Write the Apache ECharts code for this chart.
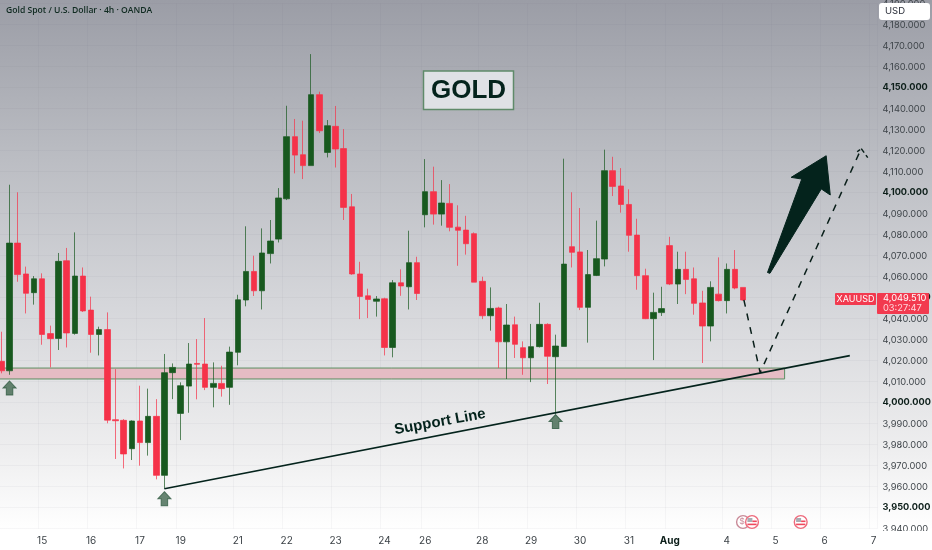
<!DOCTYPE html>
<html><head><meta charset="utf-8">
<style>html,body{margin:0;padding:0;background:#fff}#c{width:932px;height:550px}</style>
<script src="https://cdn.jsdelivr.net/npm/echarts@6/dist/echarts.min.js"></script>
</head><body><div id="c"></div>
<script>
const opens=[4019.7,4015.2,4076,4061.3,4052.4,4059,4032.9,4030.6,4067.6,4033,4060.3,4044.1,4032.5,4034.8,3991.9,3991.6,3978.1,3991.3,3981,3993.5,3965.4,4014.3,3994.9,4007.9,4018.7,4018.4,4007.3,4009.2,4007.3,4024,4048.9,4062.5,4053.3,4071,4077.9,4097.1,4126.7,4118.1,4112.9,4146.7,4119.2,4131.6,4121,4093.3,4061.3,4050.9,4048.3,4049.5,4026.3,4057.1,4055.2,4066.7,4089.5,4100.5,4089.8,4094.9,4083.6,4082.2,4080.5,4057.8,4041.4,4045.1,4029,4037.1,4026.2,4021.4,4026.7,4037.3,4021.9,4026.8,4074.3,4071.8,4045.4,4060.6,4068.4,4110.5,4103.2,4094.4,4079.8,4060.5,4040,4042.9,4074.8,4056.5,4063.5,4059,4047.5,4036.5,4051.7,4048.6,4063.5,4054.9];
const closes=[4015.2,4076,4061,4052.1,4059,4032.5,4030.5,4067.3,4033.2,4060.3,4043.7,4032.5,4034.8,3991.7,3991.4,3975.6,3991.3,3981,3993.5,3965.4,4014.3,4016.8,4008.1,4018.4,4018.3,4007.3,4009.2,4006.7,4024.1,4049,4062.5,4053.3,4071.3,4077,4097.5,4126.7,4117.9,4112.9,4146.7,4129.5,4131.9,4120.8,4093,4061.3,4050.6,4049.2,4049.4,4026.3,4057.1,4055.6,4066.7,4052,4100.5,4089.8,4095.1,4083.5,4082.1,4075.7,4057.4,4041.4,4044.9,4029,4037,4027.8,4021.4,4026.7,4037.3,4022.1,4027,4066,4071.6,4045.4,4061,4068.6,4110.5,4103,4094.4,4079.7,4060.5,4040,4043,4044.8,4056.5,4063.5,4058.7,4047.3,4036.5,4054.9,4048.6,4063.5,4054.6,4048.9];
const lows=[4014,4013.3,4057.6,4042.5,4046.7,4027.6,4016.8,4025.1,4026.3,4032.4,4043.2,4023.8,4022.5,3990.2,3973.2,3968.7,3972.7,3970,3974.8,3963.5,3959,4001.7,3982.2,3995.2,4001.6,4006,3997.8,4002.9,3999,4017.8,4045.9,4050.8,4044.4,4066.3,4076.3,4096.5,4109.2,4106.5,4112.9,4128.4,4116.8,4112,4087,4060.9,4039.8,4040.3,4041,4022.5,4021.6,4050.9,4044.4,4048.9,4083.5,4084.8,4084.3,4081.6,4065.2,4070.5,4057.4,4039.8,4034.3,4016.5,4011.3,4021.3,4013.3,4009.8,4026.3,4008.9,3994.6,4026.8,4064.4,4044.1,4028.6,4060.3,4064.9,4098.4,4090.5,4071.9,4053.8,4039.8,4020.3,4041.3,4056,4047,4051.7,4041.9,4018.9,4029.2,4048.2,4042.5,4054,4048.6];
const highs=[4033.8,4103.8,4100.2,4064.8,4060.3,4061.6,4036.7,4071.3,4073.7,4081.1,4064.4,4050.5,4036.2,4043,4016,3992.2,3991.6,4008.1,4006.7,4001.7,4023.2,4018.7,4009.7,4028.4,4030.3,4040.3,4019.2,4017.6,4026.7,4051.4,4084,4070,4083,4087,4102.2,4141.4,4135.1,4134.3,4166,4148.1,4134.6,4141.3,4130.3,4099.4,4067.1,4054.3,4050.8,4050,4058.4,4063.5,4081.9,4069.5,4116,4112.4,4106,4104.1,4094,4089,4081.1,4060,4054.9,4045.7,4047,4041,4029.2,4037.5,4047.6,4037.8,4032.4,4116.2,4100.2,4092.7,4072.7,4086.7,4120.5,4117.1,4111.7,4101.6,4087.6,4063.8,4052.4,4055.2,4079,4071.9,4071.9,4064.4,4053.3,4057.8,4069.2,4066.3,4072.7,4054.9];

const slotCount=108;
const dayIndex=[5,11,17,22,29,35,41,47,52,59,65,71,77,82,89,95,101,107];
const dayLabels=['15','16','17','19','21','22','23','24','26','28','29','30','31','Aug','4','5','6','7'];
const priceMin=3940, priceMax=4190, priceStep=10;

const zoneStartIdx=-2, zoneEndIdx=96.1, zoneLow=4011.3, zoneHigh=4016.5;
const supportLine=[[20,3959],[104.1,4022.4]];
const forecastPath=[[91.1,4049],[93.1,4014.3],[105.5,4121],[105,4119.5]];
const forecastHead=[[105.5,4121],[106.3,4116.7]];
const bigArrow=[[94.0,4062],[98.2,4106.5],[96.9,4107.3],[101.2,4117.6],[101.7,4098.9],[100.6,4101.8],[94.3,4061.6]];
const upMarkers=[[1,4007],[20,3954.3],[68,3991]];

const UP='#18591f', DOWN='#f53249', INK='#04231c';
const categories=[];
for(let i=0;i<slotCount;i++){const k=dayIndex.indexOf(i);categories.push(k>=0?dayLabels[k]:'');}
const candles=opens.map((o,i)=>[o,closes[i],lows[i],highs[i]]);
const fmtPrice=v=>v.toLocaleString('en-US',{minimumFractionDigits:3,maximumFractionDigits:3});

function flag(cx,cy,faded){
  const s=faded?'#c98a98':'#ee6a7c';
  const kids=[{type:'circle',shape:{cx,cy,r:6.4},style:{fill:'#fff',stroke:s,lineWidth:1.4},z:60}];
  if(!faded){
    kids.push({type:'rect',shape:{x:cx-4.6,y:cy-4,width:5,height:4},style:{fill:'#a9acb3'},z:61});
    kids.push({type:'rect',shape:{x:cx+0.4,y:cy-1.5,width:4.4,height:1.6},style:{fill:'#f0475c'},z:61});
    kids.push({type:'rect',shape:{x:cx-4.6,y:cy+1.6,width:9.2,height:1.6},style:{fill:'#f0475c'},z:61});
  }else{
    kids.push({type:'text',x:cx-1,y:cy,style:{text:'$',font:'9px "Liberation Sans"',fill:s,align:'center',verticalAlign:'middle'},z:61});
  }
  return kids;
}

const chart=echarts.init(document.getElementById('c'),null,{renderer:'canvas'});
chart.setOption({
  animation:false,
  backgroundColor:{type:'linear',x:0,y:0,x2:0,y2:1,colorStops:[
    {offset:0,color:'#9b9da6'},{offset:0.27,color:'#b9bbc1'},{offset:0.55,color:'#d5d6da'},{offset:0.82,color:'#eeeeef'},{offset:0.965,color:'#ffffff'},{offset:1,color:'#ffffff'}]},
  grid:{left:-2.67,top:3.7,width:880.2,height:525,containLabel:false,outerBoundsMode:'none'},
  xAxis:[
    {type:'category',data:categories,boundaryGap:true,
     axisLine:{show:false},axisTick:{show:false},
     splitLine:{show:true,interval:(i,v)=>v!=='',lineStyle:{color:'rgba(90,95,110,0.05)',width:1}},
     axisLabel:{interval:0,margin:7,fontFamily:'Inter',fontSize:10,color:'#3c4247',
       formatter:v=>v==='Aug'?'{b|Aug}':v,rich:{b:{fontFamily:'Inter',fontWeight:700,fontSize:10,color:'#0d1f1a'}}}},
    {type:'value',min:-0.5,max:slotCount-0.5,show:false,splitLine:{show:false}}
  ],
  yAxis:{type:'value',position:'right',min:priceMin,max:priceMax,interval:priceStep,scale:true,
    axisLine:{show:false},axisTick:{show:false},
    splitLine:{show:true,lineStyle:{color:'rgba(90,95,110,0.05)',width:1}},
    axisLabel:{margin:5,align:'left',fontFamily:'Inter',fontSize:9.3,color:'#3f454a',
      formatter:v=>v%50===0?'{b|'+fmtPrice(v)+'}':fmtPrice(v),
      rich:{b:{fontFamily:'Inter',fontWeight:700,fontSize:9.2,color:'#0d1f1a'}}}},
  series:[
    {type:'custom',xAxisIndex:1,yAxisIndex:0,z:1,clip:true,silent:true,
     encode:{x:[0,2],y:[1,3]},data:[[zoneStartIdx,zoneLow,zoneEndIdx,zoneHigh]],
     renderItem:(p,api)=>{
       const a=api.coord([api.value(0),api.value(3)]),b=api.coord([api.value(2),api.value(1)]);
       return {type:'rect',shape:{x:a[0],y:a[1],width:b[0]-a[0],height:b[1]-a[1]},
         style:{fill:'#e5bcc4',stroke:'#5c8f62',lineWidth:1}};
     }},
    {type:'candlestick',xAxisIndex:0,yAxisIndex:0,z:2,barWidth:6,data:candles,
     itemStyle:{color:UP,color0:DOWN,borderColor:'rgba(24,89,31,0.7)',borderColor0:'rgba(245,50,73,0.7)',borderWidth:1}},
    {type:'line',xAxisIndex:1,yAxisIndex:0,z:4,data:supportLine,symbol:'none',silent:true,
     lineStyle:{color:INK,width:1.6}},
    {type:'line',xAxisIndex:1,yAxisIndex:0,z:4,data:forecastPath,symbol:'none',silent:true,
     lineStyle:{color:'#0a1f1a',width:1.5,type:[7,7]}},
    {type:'line',xAxisIndex:1,yAxisIndex:0,z:4,data:forecastHead,symbol:'none',silent:true,
     lineStyle:{color:'#0a1f1a',width:1.5,type:[5,3]}},
    {type:'custom',xAxisIndex:1,yAxisIndex:0,z:5,silent:true,clip:false,
     encode:{x:0,y:1},data:bigArrow,
     renderItem:(p,api)=>{
       if(p.dataIndex!==0) return;
       return {type:'polygon',shape:{points:bigArrow.map(q=>api.coord(q))},
         style:{fill:INK,stroke:INK,lineWidth:1,lineJoin:'round'}};
     }},
    {type:'scatter',xAxisIndex:1,yAxisIndex:0,z:5,silent:true,data:upMarkers,
     symbol:'path://M7 0 L14 7 L10.5 7 L10.5 14 L3.5 14 L3.5 7 L0 7 Z',symbolSize:[13,14],
     itemStyle:{color:'#41664f',borderColor:'#2f5a41',borderWidth:1}}
  ],
  graphic:[
    {type:'text',x:6,y:11,z:100,style:{text:'Gold Spot / U.S. Dollar · 4h · OANDA',font:'600 8.6px "Open Sans"',fill:'#0f2a20',verticalAlign:'middle'}},
    {type:'rect',shape:{x:423.5,y:71,width:90,height:38.5},z:50,style:{fill:'#dfe1e5',stroke:'#5f8a6a',lineWidth:1.5}},
    {type:'text',x:468.5,y:91,z:51,style:{text:'GOLD',font:'bold 26px "Liberation Sans"',fill:INK,align:'center',verticalAlign:'middle'}},
    {type:'text',x:440,y:422,rotation:0.18,z:51,style:{text:'Support Line',font:'bold 15px "Liberation Sans"',fill:INK,align:'center',verticalAlign:'middle'}},
    {type:'rect',shape:{x:879,y:3,width:51,height:17,r:3},z:100,style:{fill:'#ffffff'}},
    {type:'text',x:885,y:11.5,z:101,style:{text:'USD',font:'9.5px Inter',fill:'#2a2e39',verticalAlign:'middle'}},
    {type:'rect',shape:{x:878,y:531,width:54,height:19},z:100,style:{fill:'#ffffff'}},
    {type:'rect',shape:{x:835,y:293,width:41,height:12,r:1},z:100,style:{fill:'#f23a4f'}},
    {type:'text',x:855.5,y:299.3,z:101,style:{text:'XAUUSD',font:'9px Inter',fill:'#ffffff',align:'center',verticalAlign:'middle'}},
    {type:'rect',shape:{x:877,y:293,width:52,height:21,r:1},z:100,style:{fill:'#f23a4f'}},
    {type:'text',x:883,y:298.5,z:101,style:{text:'4,049.510',font:'9.3px Inter',fill:'#ffffff',verticalAlign:'middle'}},
    {type:'text',x:883,y:308.5,z:101,style:{text:'03:27:47',font:'9.3px Inter',fill:'#ffd6db',verticalAlign:'middle'}},
    ...flag(743,522,true),...flag(752,522,false),...flag(800.7,522,false)
  ]
});
</script></body></html>
